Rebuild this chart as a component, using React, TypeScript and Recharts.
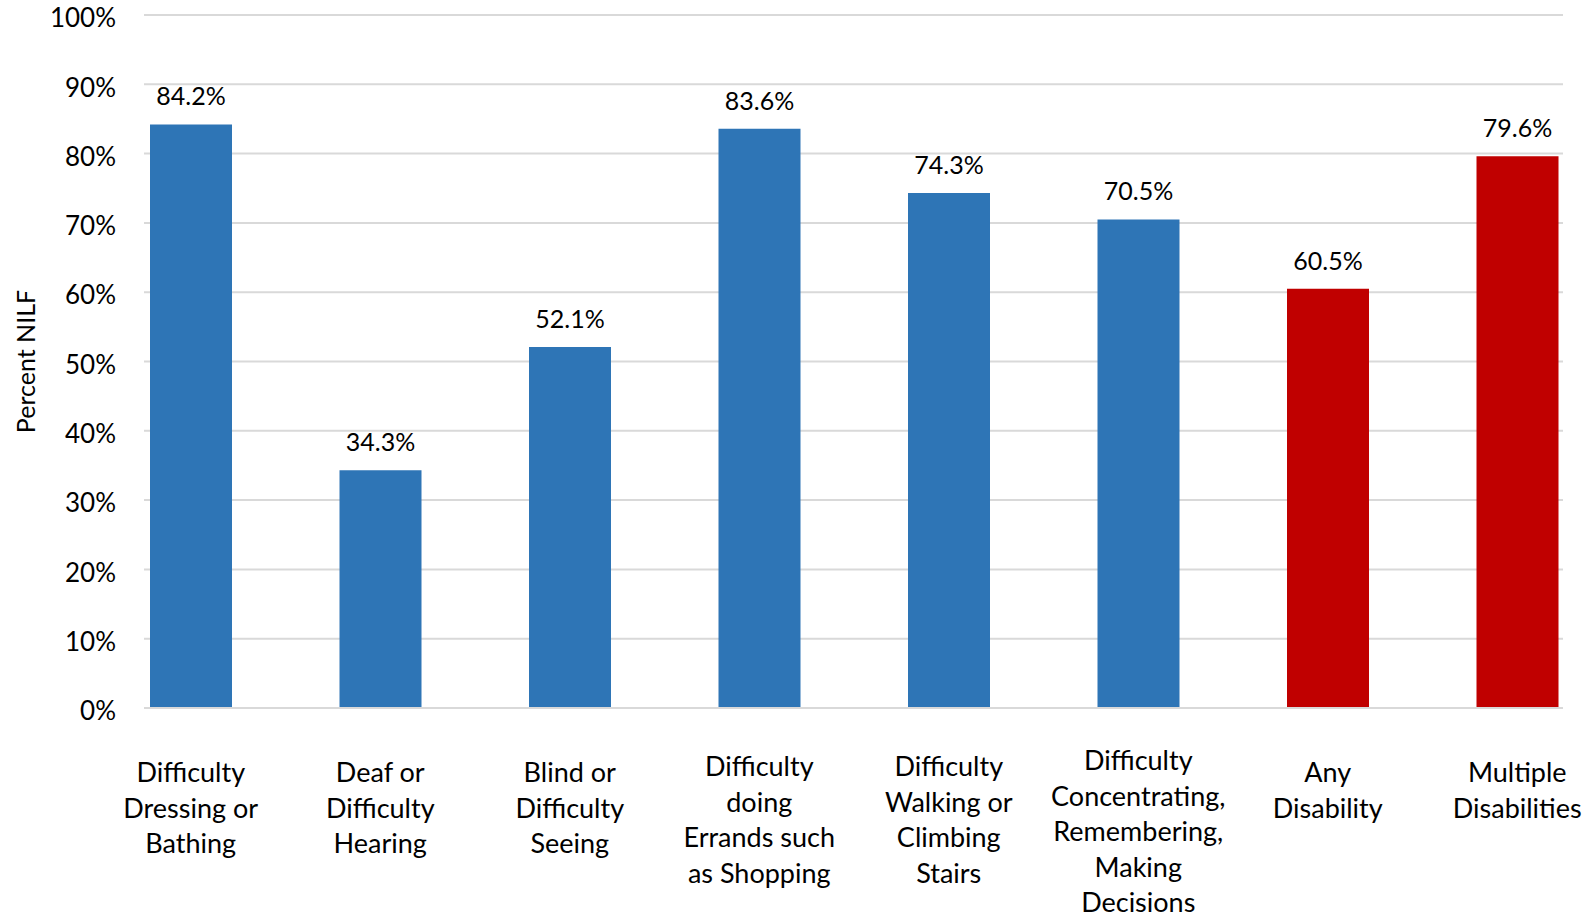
import { BarChart, Bar, XAxis, YAxis, CartesianGrid, Cell, LabelList } from "recharts";

const categories = [
  "Difficulty\nDressing or\nBathing",
  "Deaf or\nDifficulty\nHearing",
  "Blind or\nDifficulty\nSeeing",
  "Difficulty\ndoing\nErrands such\nas Shopping",
  "Difficulty\nWalking or\nClimbing\nStairs",
  "Difficulty\nConcentrating,\nRemembering,\nMaking\nDecisions",
  "Any\nDisability",
  "Multiple\nDisabilities",
];
const nilfPercent = [84.2, 34.3, 52.1, 83.6, 74.3, 70.5, 60.5, 79.6];
const isSummary = [false, false, false, false, false, false, true, true];
const yTicks = [0, 10, 20, 30, 40, 50, 60, 70, 80, 90, 100];

const BLUE = "#2E75B6";
const RED = "#C00000";
const FONT = "Lato, 'Open Sans', sans-serif";

const data = categories.map((name, i) => ({
  name,
  value: nilfPercent[i],
  color: isSummary[i] ? RED : BLUE,
}));

// multi-line category labels; taller labels start a little higher
function CategoryTick(props: any) {
  const { x, y, payload } = props;
  const lines = String(payload.value).split("\n");
  const lift = Math.max(0, lines.length - 3) * 6;
  return (
    <text x={x} y={y} textAnchor="middle" fill="#000" fontSize={27} fontFamily={FONT}>
      {lines.map((line, i) => (
        <tspan key={i} x={x} dy={i === 0 ? 66 - lift : 35.5}>
          {line}
        </tspan>
      ))}
    </text>
  );
}

export default function App() {
  return (
    <div style={{ position: "absolute", left: 0, top: 0, background: "#fff" }}>
      <BarChart
        width={1587}
        height={922}
        data={data}
        margin={{ top: 15, right: 24, left: 0, bottom: 0 }}
        barSize={82}
      >
        <CartesianGrid vertical={false} stroke="#d9d9d9" strokeWidth={2} />
        <XAxis
          dataKey="name"
          height={214}
          interval={0}
          axisLine={{ stroke: "#d9d9d9", strokeWidth: 2 }}
          tickLine={false}
          padding={{ left: -48, right: -49 }}
          tick={<CategoryTick />}
        />
        <YAxis
          width={144}
          domain={[0, 100]}
          ticks={yTicks}
          interval={0}
          axisLine={false}
          tickLine={false}
          tickSize={0}
          tickMargin={28}
          tickFormatter={(v: number) => `${v}%`}
          tick={{ fill: "#000", fontSize: 26, fontFamily: FONT, dy: 3 }}
          label={{
            content: ({ viewBox }: any) => {
              const cx = viewBox.x + 25;
              const cy = viewBox.y + viewBox.height / 2;
              return (
                <text
                  x={cx}
                  y={cy}
                  transform={`rotate(-90 ${cx} ${cy})`}
                  textAnchor="middle"
                  dominantBaseline="central"
                  fill="#000"
                  fontSize={25}
                  fontFamily={FONT}
                >
                  Percent NILF
                </text>
              );
            },
          }}
        />
        <Bar dataKey="value" isAnimationActive={false}>
          {data.map((d, i) => (
            <Cell key={i} fill={d.color} />
          ))}
          <LabelList
            dataKey="value"
            position="top"
            offset={19}
            formatter={(v: any) => `${Number(v).toFixed(1)}%`}
            style={{ fill: "#000", fontSize: 25, fontFamily: FONT }}
          />
        </Bar>
      </BarChart>
    </div>
  );
}
